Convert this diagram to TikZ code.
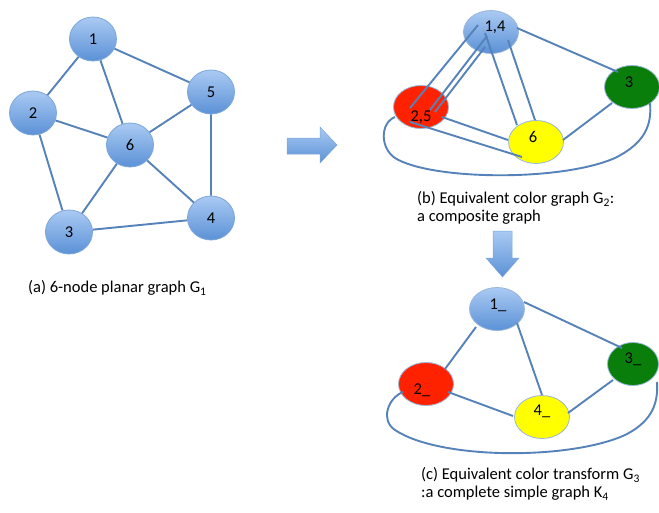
\documentclass[tikz,border=0pt]{standalone}
\usepackage{fontspec}
\setmainfont{Carlito}
\usetikzlibrary{shapes.geometric,calc}
\definecolor{edgec}{HTML}{5582B8}
\definecolor{ntop}{HTML}{AACAF3}
\definecolor{nbot}{HTML}{5B91D6}
\definecolor{nbord}{HTML}{7CA6DA}
\definecolor{redc}{HTML}{FF2200}
\definecolor{yelc}{HTML}{FFFF00}
\definecolor{grnc}{HTML}{0A7E0A}
\definecolor{cbord}{HTML}{9AB6D8}
\begin{document}
\begin{tikzpicture}[x=1pt,y=-1pt,
  bnode/.style={ellipse,inner sep=0pt,minimum width=47pt,minimum height=44pt,
    top color=ntop,bottom color=nbot,draw=nbord,line width=0.8pt,font=\fontsize{16.5}{18}\selectfont},
  wnode/.style={ellipse,inner sep=0pt,minimum width=55pt,minimum height=43pt,
    draw=cbord,line width=0.8pt},
  bluew/.style={wnode,top color=ntop,bottom color=nbot},
  lbl/.style={font=\fontsize{16.5}{18}\selectfont,inner sep=0pt},
  edg/.style={draw=edgec,line width=1.9pt},
  captxt/.style={font=\fontsize{16.5}{18}\selectfont,align=left,anchor=west,inner sep=0pt},
  bigarrow/.style={top color=ntop,bottom color=nbot,draw=nbord,line width=0.5pt}]
\useasboundingbox (0,0) rectangle (659,512);

% ---------- (a) ----------
\node[bnode] (a1) at (93,39) {1};
\node[bnode] (a2) at (33,113) {2};
\node[bnode] (a5) at (211,92) {5};
\node[bnode] (a6) at (130,145) {6};
\node[bnode] (a3) at (69,232) {3};
\node[bnode] (a4) at (211,218) {4};
\path[edg] (a1) -- (a2) (a1) -- (a6) (a1) -- (a5) (a2) -- (a6) (a2) -- (a3)
  (a6) -- (a5) (a6) -- (a3) (a6) -- (a4) (a5) -- (a4) (a3) -- (a4);
\node[captxt] (capa) at (28,288) {(a) 6-node planar graph G\textsubscript{1}};

% ---------- arrows ----------
\path[bigarrow] (287,138) -- (320,138) -- (320,127) -- (337,145) -- (320,163) -- (320,154) -- (287,154) -- cycle;
\path[bigarrow] (493,231) -- (512,231) -- (512,258) -- (519,258) -- (502.5,277) -- (486,258) -- (493,258) -- cycle;

% ---------- (b) ----------
\node[bluew] (b14) at (491,32) {};
\node[wnode,fill=redc] (b25) at (421,107) {};
\node[wnode,fill=yelc] (b6) at (536,142) {};
\node[wnode,fill=grnc] (b3) at (632,87) {};
\node[lbl] (l14) at (495,27) {1,4};
\node[lbl] (l25) at (421,117) {2,5};
\node[lbl] (l6) at (533,137) {6};
\node[lbl] (l3) at (629,82) {3};
\draw[edg] ([shift={(-13,-7)}]b14.center) -- ([shift={(-11,1)}]b25.center);
\draw[edg] ([shift={(-4,4)}]b14.center) -- ([shift={(9,3)}]b25.center);
\draw[edg] ([shift={(-6,15)}]b14.center) -- ([shift={(14,5)}]b25.center);
\draw[edg] ([shift={(-6,1)}]b14.center) -- ([shift={(-19,-17)}]b6.center);
\draw[edg] ([shift={(17,8)}]b14.center) -- ([shift={(-1,-22)}]b6.center);
\draw[edg] ([shift={(26,-4)}]b14.center) -- ([shift={(-14,-15)}]b3.center);
\draw[edg] ([shift={(21,10)}]b25.center) -- ([shift={(-28,-2)}]b6.center);
\draw[edg] ([shift={(-11,15)}]b25.center) -- ([shift={(-14,15)}]b6.center);
\draw[edg] ([shift={(27,-2)}]b6.center) -- ([shift={(-20,16)}]b3.center);
\draw[edg] ([shift={(-26,10)}]b25.center) .. controls (380,123) and (380,148) .. (395,158)
  .. controls (430,180) and (560,182) .. (615,158)
  .. controls (645,143) and (652,125) .. ([shift={(18,16)}]b3.center);
\node[captxt] (capb) at (417,208) {(b) Equivalent color graph G\textsubscript{2}:\\a composite graph};

% ---------- (c) ----------
\node[bluew] (c1) at (497,309) {};
\node[wnode,fill=redc] (c2) at (426,384) {};
\node[wnode,fill=yelc] (c4) at (542,417) {};
\node[wnode,fill=grnc,minimum width=51pt] (c3) at (633,364) {};
\node[lbl] (m1) at (498,305) {1\_};
\node[lbl] (m2) at (422,390) {2\_};
\node[lbl] (m4) at (542,411) {4\_};
\node[lbl] (m3) at (633,359) {3\_};
\draw[edg] ([shift={(-21,18)}]c1.center) -- ([shift={(19,-15)}]c2.center);
\draw[edg] ([shift={(20,14)}]c1.center) -- ([shift={(0,-22)}]c4.center);
\draw[edg] ([shift={(27,-7)}]c1.center) -- ([shift={(-11,-16)}]c3.center);
\draw[edg] ([shift={(22,8)}]c2.center) -- ([shift={(-29,-1)}]c4.center);
\draw[edg] ([shift={(26,-4)}]c4.center) -- ([shift={(-20,16)}]c3.center);
\draw[edg] ([shift={(-23,8)}]c2.center) .. controls (388,398) and (380,420) .. (395,430)
  .. controls (440,460) and (570,460) .. (625,435)
  .. controls (655,420) and (658,400) .. ([shift={(24,18)}]c3.center);
\node[captxt] (capc) at (421,484) {(c) Equivalent color transform G\textsubscript{3}\\:a complete simple graph K\textsubscript{4}};
\end{tikzpicture}
\end{document}
